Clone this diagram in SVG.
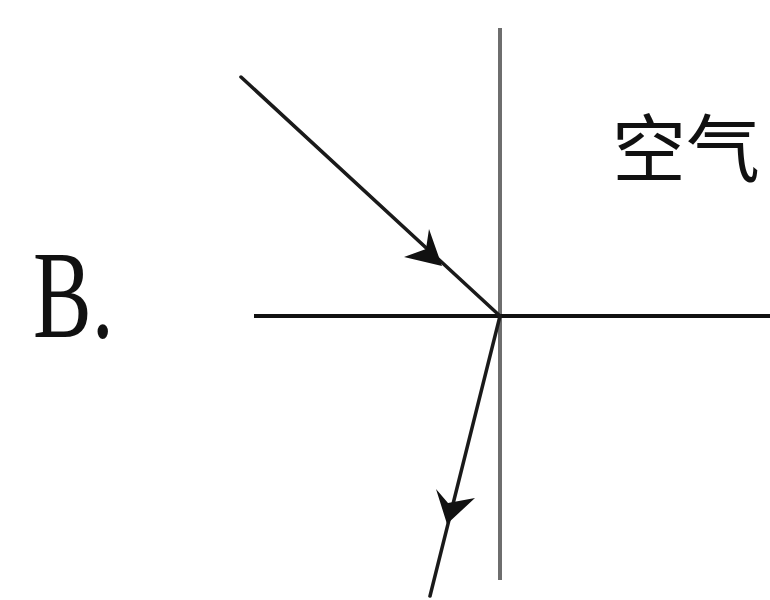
<svg xmlns="http://www.w3.org/2000/svg" width="770" height="600" viewBox="0 0 770 600">
<style>
.ray{stroke:#1a1a1a;stroke-width:3.5;fill:none;stroke-linecap:round}
.head{fill:#111;stroke:none}
.lbl{font-family:"Liberation Serif",serif;fill:#111}
.cjk{font-family:"Noto Sans CJK SC",sans-serif;fill:#111}
</style>
<rect width="770" height="600" fill="#ffffff"/>
<g id="label-B"><text class="lbl" x="0" y="0" font-size="88" transform="translate(33,337) scale(1,1.43)">B.</text></g>
<g id="label-air"><text class="cjk" x="612" y="176" font-size="74">空气</text></g>
<g id="normal"><line x1="500" y1="28" x2="500" y2="580" stroke="#6e6e6e" stroke-width="4"/></g>
<g id="interface"><line x1="254" y1="316" x2="770" y2="316" stroke="#111" stroke-width="4"/></g>
<g id="connectors">
<line class="ray" x1="241" y1="77" x2="500" y2="316"/>
<path class="head" d="M442,266 L429,229 L426,249 L404,257 Z"/>
<line class="ray" x1="500" y1="316" x2="430" y2="596"/>
<path class="head" d="M447,524 L436,489 L448,503 L475,498 Z"/>
</g>
</svg>
